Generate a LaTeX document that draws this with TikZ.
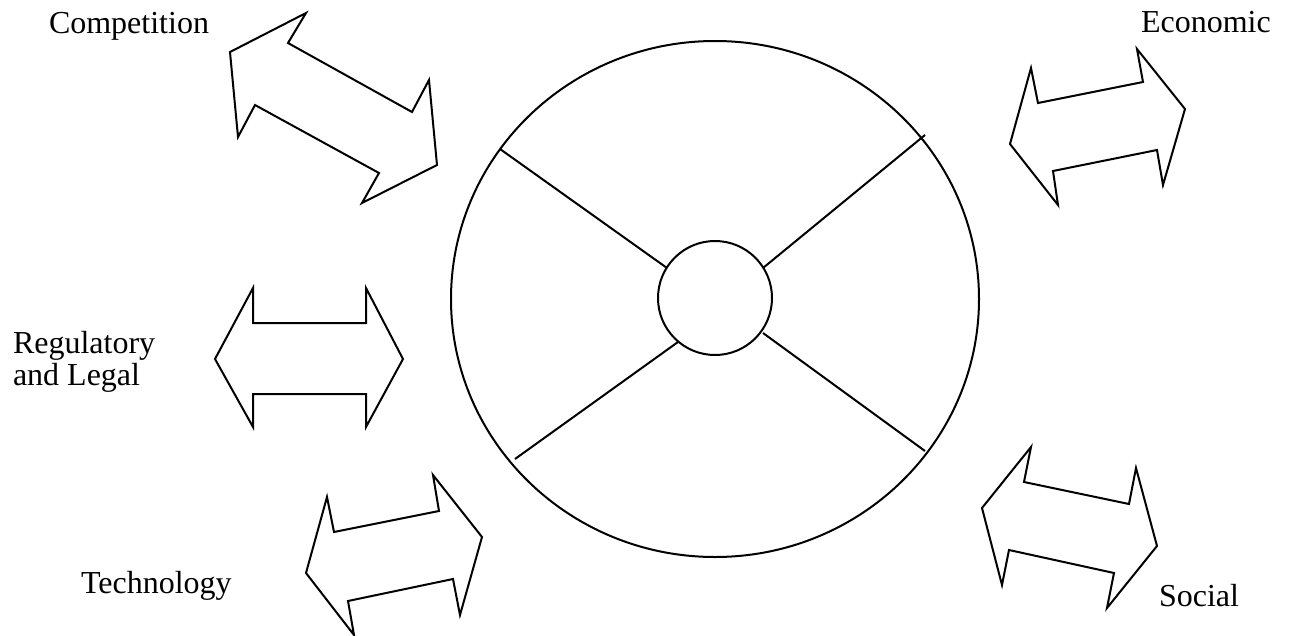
\documentclass[tikz,border=0pt]{standalone}
\usepackage{fontspec}
\setmainfont{Liberation Serif}
\begin{document}
\begin{tikzpicture}[x=0.375pt,y=-0.375pt,line width=0.75pt,line join=miter,
  force/.style={font=\fontsize{12}{12}\selectfont,inner sep=0pt,anchor=base west,align=left}]
\useasboundingbox (0,0) rectangle (1291,636);

\draw (715,299) ellipse [x radius=264, y radius=258];
\draw (715,298) circle [radius=57];

\draw (500,149) -- (667,268);
\draw (925,135) -- (763,268);
\draw (515,459) -- (678,342);
\draw (925,451) -- (763,333);

\draw (230,52) -- (306,13) -- (288,43) -- (412,112) -- (429,80) -- (437,165)
  -- (362,203) -- (379,173) -- (255,105) -- (238,137) -- cycle;
\draw (1010,144) -- (1031,68) -- (1038,103) -- (1143,82) -- (1137,49) -- (1185,109)
  -- (1163,185) -- (1157,150) -- (1053,171) -- (1058,205) -- cycle;
\draw (215,359) -- (253,288) -- (253,323) -- (366,323) -- (366,288) -- (403,359)
  -- (366,427) -- (366,394) -- (253,394) -- (253,427) -- cycle;
\draw (306,573) -- (327,497) -- (334,532) -- (439,511) -- (433,475) -- (482,537)
  -- (460,615) -- (453,579) -- (348,601) -- (354,635) -- cycle;
\draw (982,508) -- (1031,447) -- (1024,482) -- (1129,504) -- (1136,468) -- (1157,546)
  -- (1107,608) -- (1114,573) -- (1009,550) -- (1002,585) -- cycle;

\node[force] (competition) at (48,33) {Competition};
\node[force] (economic) at (1140,32) {Economic};
\node[force] (regulatory) at (12,385) {Regulatory\\and Legal};
\node[force] (technology) at (80,593) {Technology};
\node[force] (social) at (1158,606) {Social};
\end{tikzpicture}
\end{document}
